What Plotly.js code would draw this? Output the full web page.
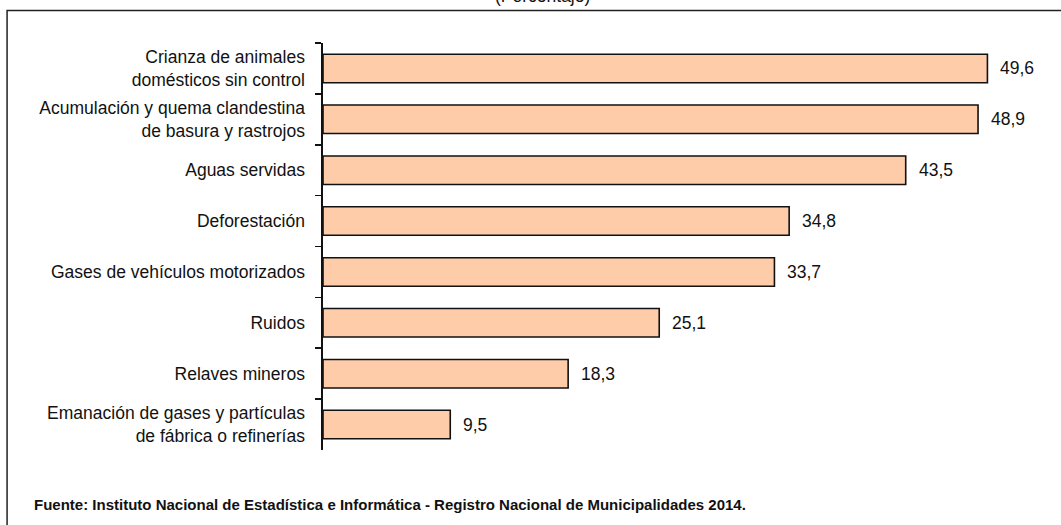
<!doctype html>
<html lang="es">
    <head>
        <meta charset="UTF-8" />
        <title>Problemas ambientales</title>
        <script src="https://cdn.plot.ly/plotly-3.0.1.min.js"></script>
        <style>
            body {
                margin: 0;
                background: white;
            }
            #chart {
                width: 1061px;
                height: 525px;
            }
        </style>
    </head>
    <body>
        <div id="chart"></div>
        <script>
            // Categories top to bottom, with their percentages
            const categories = [
                "Crianza de animales<br>domésticos sin control",
                "Acumulación y quema clandestina<br>de basura y rastrojos",
                "Aguas servidas",
                "Deforestación",
                "Gases de vehículos motorizados",
                "Ruidos",
                "Relaves mineros",
                "Emanación de gases y partículas<br>de fábrica o refinerías",
            ];
            const values = [49.6, 48.9, 43.5, 34.8, 33.7, 25.1, 18.3, 9.5];
            const valueLabels = ["49,6", "48,9", "43,5", "34,8", "33,7", "25,1", "18,3", "9,5"];

            const font = "'Liberation Sans', Arial, sans-serif";

            const trace = {
                type: "bar",
                orientation: "h",
                x: values,
                y: categories,
                marker: {
                    color: "#FFCCAA",
                    line: { color: "#111", width: 1.6 },
                },
                hoverinfo: "skip",
            };

            // value labels placed just right of each bar
            const labels = values.map((v, i) => ({
                x: v,
                y: categories[i],
                text: valueLabels[i],
                showarrow: false,
                xanchor: "left",
                xshift: 11,
                font: { family: font, size: 17.5, color: "#111" },
            }));

            const layout = {
                width: 1061,
                height: 525,
                margin: { l: 323, r: 20, t: 43, b: 75 },
                paper_bgcolor: "white",
                plot_bgcolor: "white",
                font: { family: font, size: 17.5, color: "#111" },
                showlegend: false,
                bargap: 0.44,
                xaxis: {
                    range: [0, 53.6],
                    visible: false,
                    fixedrange: true,
                },
                yaxis: {
                    type: "category",
                    autorange: "reversed",
                    showline: true,
                    linecolor: "#111",
                    linewidth: 1.6,
                    ticks: "outside",
                    tickson: "boundaries",
                    ticklen: 6,
                    tickwidth: 1.6,
                    tickcolor: "#111",
                    ticklabelstandoff: 13,
                    showgrid: false,
                    zeroline: false,
                    tickfont: { family: font, size: 17.5, color: "#111" },
                },
                shapes: [
                    {
                        type: "rect",
                        xref: "paper",
                        yref: "paper",
                        x0: -0.44,
                        x1: 1.05,
                        y0: -0.3,
                        y1: 1.08,
                        line: { color: "#222", width: 1.5 },
                    },
                ],
                annotations: labels.concat([
                    {
                        text: "(Porcentaje)",
                        xref: "paper",
                        yref: "paper",
                        x: 0.3064,
                        y: 1.116,
                        xanchor: "center",
                        yanchor: "middle",
                        showarrow: false,
                        font: { family: font, size: 17.5, color: "#111" },
                    },
                    {
                        text: "<b>Fuente: Instituto Nacional de Estadística e Informática - Registro Nacional de Municipalidades 2014.</b>",
                        xref: "paper",
                        yref: "paper",
                        x: -0.4053,
                        y: -0.1327,
                        xanchor: "left",
                        yanchor: "middle",
                        showarrow: false,
                        font: { family: font, size: 15, color: "#111" },
                    },
                ]),
            };

            Plotly.newPlot("chart", [trace], layout, { displayModeBar: false, staticPlot: true });
        </script>
    </body>
</html>
